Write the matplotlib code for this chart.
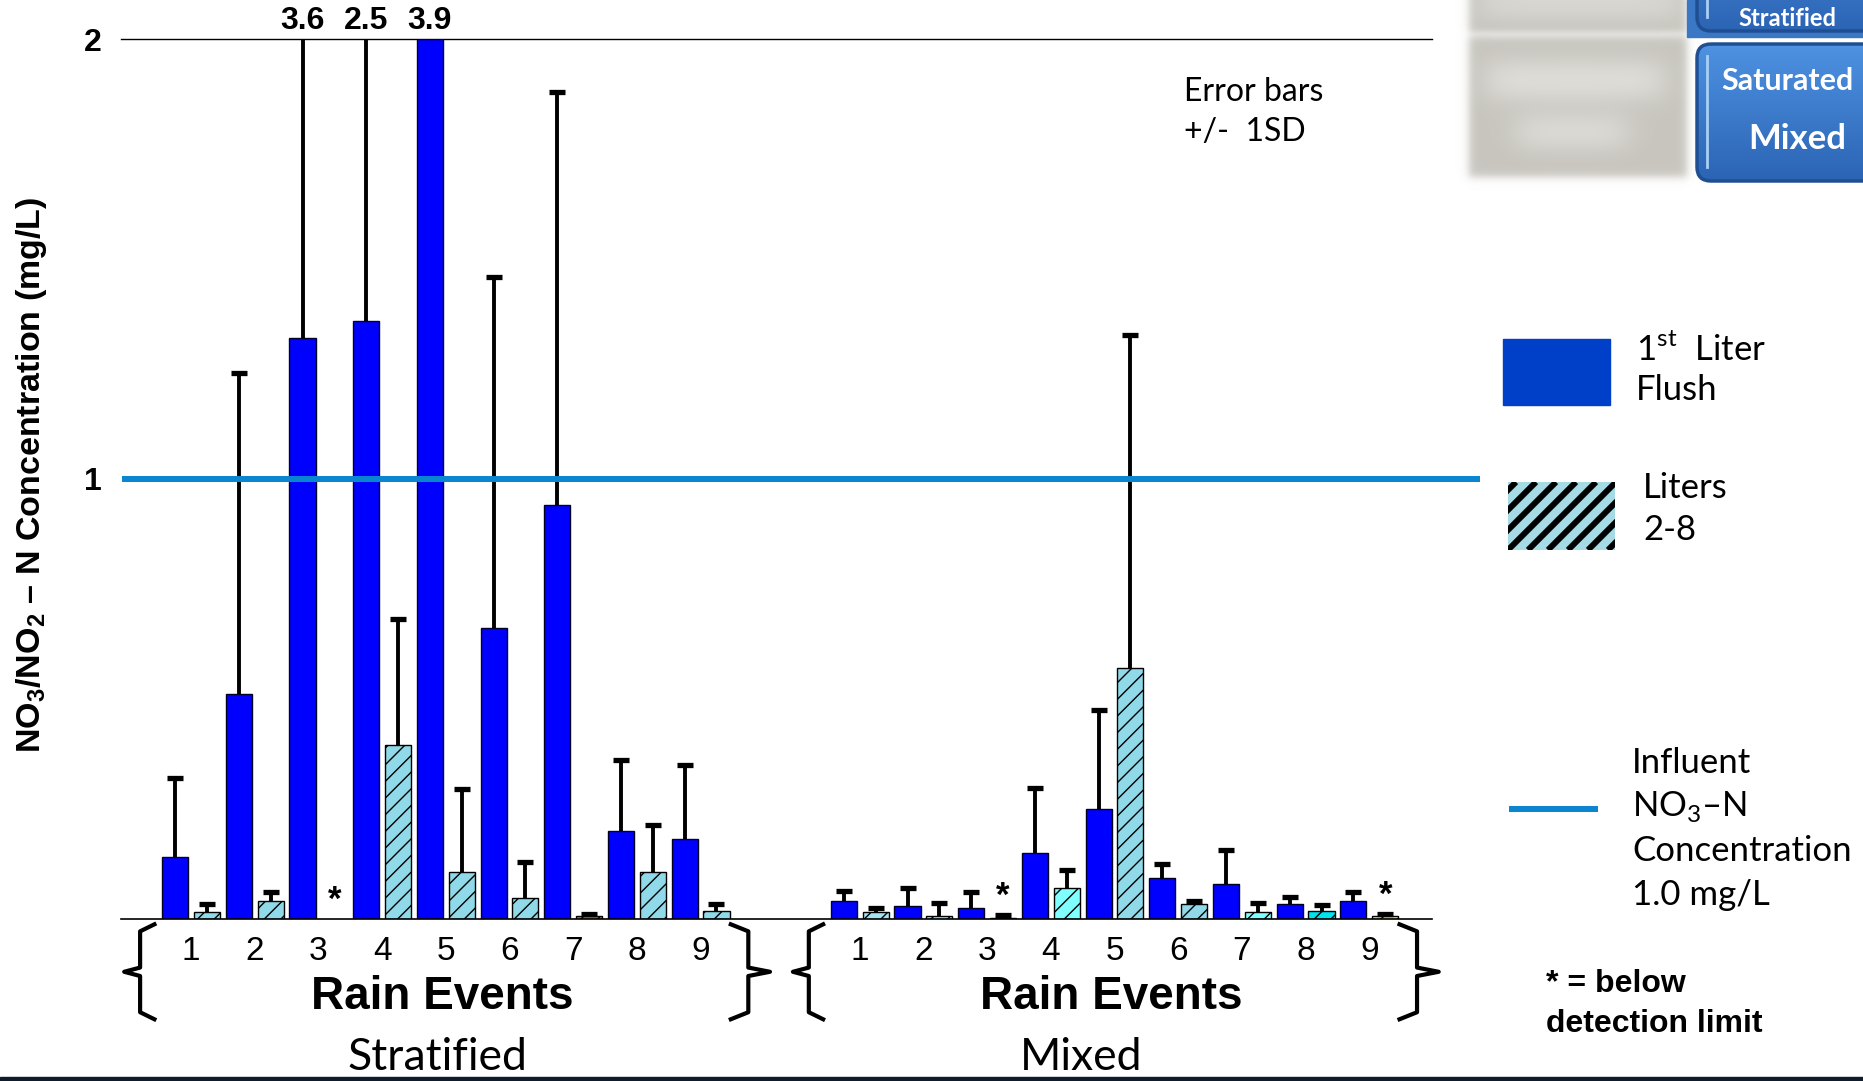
import numpy as np
import matplotlib
matplotlib.use('Agg')
import matplotlib.pyplot as plt
from matplotlib import font_manager
from matplotlib.patches import Rectangle, FancyBboxPatch
from matplotlib.lines import Line2D
from matplotlib.transforms import blended_transform_factory

installed = {f.name for f in font_manager.fontManager.ttflist}
ARIAL = 'Liberation Sans'
NARROW = 'Liberation Sans Narrow' if 'Liberation Sans Narrow' in installed else ARIAL
CALIBRI = 'Lato'

plt.rcParams['font.family'] = [ARIAL, 'DejaVu Sans']
plt.rcParams['mathtext.fontset'] = 'custom'
plt.rcParams['mathtext.rm'] = CALIBRI
plt.rcParams['mathtext.bf'] = ARIAL + ':bold'
plt.rcParams['hatch.linewidth'] = 1.0

# rain events
events = ['1', '2', '3', '4', '5', '6', '7', '8', '9']

# Stratified: 1st liter flush and liters 2-8 (mg/L), upper SD
strat_flush = [0.14, 0.51, 1.32, 1.36, 3.9, 0.66, 0.94, 0.20, 0.18]
strat_flush_sd = [0.18, 0.73, 2.28, 1.14, 0.0, 0.80, 0.94, 0.16, 0.17]
strat_rest = [0.014, 0.039, np.nan, 0.395, 0.106, 0.047, 0.005, 0.105, 0.016]
strat_rest_sd = [0.018, 0.021, np.nan, 0.286, 0.189, 0.081, 0.005, 0.108, 0.017]

# Mixed
mixed_flush = [0.039, 0.029, 0.023, 0.150, 0.249, 0.091, 0.078, 0.033, 0.039]
mixed_flush_sd = [0.024, 0.041, 0.038, 0.147, 0.226, 0.034, 0.078, 0.015, 0.021]
mixed_rest = [0.014, 0.005, 0.002, 0.070, 0.570, 0.033, 0.015, 0.017, 0.006]
mixed_rest_sd = [0.011, 0.031, 0.007, 0.041, 0.757, 0.006, 0.020, 0.013, 0.005]

# off-scale values written above the top line (stratified flush bars)
strat_offscale = ['', '', '3.6', '2.5', '3.9', '', '', '', '']
# events whose liters 2-8 were below detection limit
strat_bdl = ['3']
mixed_bdl = ['3', '9']

influent = 1.0

# colours
BLUE = '#0000ff'
strat_rest_colors = ['#8fd9e8', '#8fd9e8', '#8fd9e8', '#8fd9e8', '#8fd9e8',
                     '#8fd9e8', '#c87a3c', '#8fd9e8', '#8fd9e8']
mixed_rest_colors = ['#a3e3f3', '#80ffff', '#eefcff', '#80ffff', '#8fd9e8',
                     '#8fd9e8', '#80ffff', '#00e3ee', '#ccff66']
INFLUENT_C = '#0a85cf'

W, H = 1863, 1081
fig = plt.figure(figsize=(W / 100, H / 100), dpi=100)


def fx(px):
    return px / W


def fy(py):
    return 1 - py / H


ax = fig.add_axes([fx(121), fy(918.5), (1432 - 121) / W, (918.5 - 39.2) / H])
ax.set_xlim(-1.7, 39.47)
ax.set_ylim(0, 2)
for s in ['left', 'right']:
    ax.spines[s].set_visible(False)
ax.spines['top'].set_linewidth(1.0)
ax.spines['bottom'].set_linewidth(1.2)
ax.set_xticks([])
ax.set_yticks([1, 2])
ax.set_yticklabels(['1', '2'], fontsize=23, fontweight='bold')
ax.tick_params(axis='y', length=0, pad=14)

trans = blended_transform_factory(ax.transData, ax.transAxes)
bw = 0.82


def upper_errorbar(x, y, sd):
    eb = ax.errorbar(x, y, yerr=[np.zeros(len(y)), sd], fmt='none', ecolor='black',
                     elinewidth=2.8, capsize=5.5, capthick=3.8, zorder=3)
    eb[1][0].set_visible(False)  # no cap on the bar top


def draw_group(x0, flush, flush_sd, rest, rest_sd, rest_colors, bdl):
    xf = x0 + 2 * np.arange(len(events))
    xr = xf + 1
    flush = np.array(flush)
    rest = np.array(rest)
    ax.bar(xf, flush, width=bw, color=BLUE, edgecolor='#000022', linewidth=1, zorder=2)
    upper_errorbar(xf, flush, flush_sd)
    ok = ~np.isnan(rest)
    ax.bar(xr[ok], rest[ok], width=bw, color=np.array(rest_colors)[ok],
           edgecolor='black', linewidth=1, hatch='//', zorder=2)
    upper_errorbar(xr[ok], rest[ok], np.array(rest_sd)[ok])
    for i, ev in enumerate(events):
        ax.text(xf[i] + 0.5, -0.037, ev, transform=trans, ha='center', va='center',
                fontsize=24, family=NARROW)
        if ev in bdl:
            top = 0 if np.isnan(rest[i]) else rest[i] + rest_sd[i]
            ax.text(xr[i], top + 0.02, '*', ha='center', va='baseline',
                    fontsize=25, fontweight='bold')
    return xf, xr


def brace(x_vert, x_hook, x_tip):
    top, bot, mid, d = -0.0066, -0.1146, -0.0606, 0.008
    xs = [x_hook, x_vert, x_vert, x_tip, x_vert, x_vert, x_hook]
    ys = [top, top - d, mid + d * 0.6, mid, mid - d * 0.6, bot + d, bot]
    ax.add_line(Line2D(xs, ys, transform=trans, color='black', lw=3,
                       solid_joinstyle='round', clip_on=False))


# group start, name, data..., shift of the group name
groups = [(0, 'Stratified', strat_flush, strat_flush_sd, strat_rest, strat_rest_sd,
           strat_rest_colors, strat_bdl, -0.25),
          (21, 'Mixed', mixed_flush, mixed_flush_sd, mixed_rest, mixed_rest_sd,
           mixed_rest_colors, mixed_bdl, -1.05)]

for x0, name, fl, fls, rs, rss, rc, bdl, name_shift in groups:
    xf, xr = draw_group(x0, fl, fls, rs, rss, rc, bdl)
    first, last = xf[0], xr[-1]
    brace(first - 1.1, first - 0.65, first - 1.6)
    brace(last + 1.0, last + 0.45, last + 1.68)
    mid = (first + last) / 2
    ax.text(mid - 0.1, -0.089, 'Rain Events', transform=trans, ha='center', va='center',
            fontsize=35 if NARROW != ARIAL else 33, fontweight='bold', family=NARROW)
    ax.text(mid + name_shift, -0.158, name, transform=trans, ha='center', va='center',
            fontsize=32, family=CALIBRI)

# values beyond the axis
xf = 2 * np.arange(len(events))
for i, lab in enumerate(strat_offscale):
    if lab:
        ax.annotate(lab, (xf[i], 2), xytext=(0, 2.5), textcoords='offset points',
                    ha='center', va='bottom', fontsize=23, fontweight='bold',
                    annotation_clip=False)

# influent concentration line
ax.axhline(influent, xmin=0.003, xmax=1.034, color=INFLUENT_C, lw=4.3,
           clip_on=False, zorder=4)

ax.text(0.811, 0.957, 'Error bars\n+/-  1SD', transform=ax.transAxes, ha='left',
        va='top', fontsize=23, family=CALIBRI, linespacing=1.4)

# y label
fig.text(fx(32), fy(475), r'NO$_\mathbf{3}$/NO$_\mathbf{2}$ – N Concentration (mg/L)',
         rotation=90, ha='center', va='center', fontsize=24.5, fontweight='bold')

# legend
fig.add_artist(Rectangle((fx(1503), fy(405)), 107 / W, 66 / H,
                         transform=fig.transFigure, color='#003fc8'))
fig.text(fx(1636), fy(350), r'1$^{\rm st}$  Liter', fontsize=25, family=CALIBRI,
         ha='left', va='center')
fig.text(fx(1636), fy(390), 'Flush', fontsize=25, family=CALIBRI, ha='left', va='center')

hax = fig.add_axes([fx(1508), fy(550), 107 / W, 68 / H])
hax.set_xlim(0, 107)
hax.set_ylim(0, 68)
hax.set_facecolor('#a6dbe6')
for c in range(-80, 120, 20):
    hax.plot([c, c + 68], [0, 68], color='black', lw=4.3, solid_capstyle='butt')
hax.set_xticks([])
hax.set_yticks([])
for s in hax.spines.values():
    s.set_visible(False)
fig.text(fx(1643), fy(488), 'Liters', fontsize=25, family=CALIBRI, ha='left', va='center')
fig.text(fx(1643), fy(530), '2-8', fontsize=25, family=CALIBRI, ha='left', va='center')

fig.add_artist(Line2D([fx(1512), fx(1595)], [fy(809), fy(809)], color=INFLUENT_C, lw=4.3))
for txt, py in [('Influent', 763), (r'NO$_3$–N', 807), ('Concentration', 851),
                ('1.0 mg/L', 895)]:
    fig.text(fx(1632), fy(py), txt, fontsize=25, family=CALIBRI, ha='left', va='center')

fig.text(fx(1546), fy(984), '* = below', fontsize=23, fontweight='bold',
         ha='left', va='center')
fig.text(fx(1546), fy(1024), 'detection limit', fontsize=23, fontweight='bold',
         ha='left', va='center')

# slide navigation buttons (top right)
deco = fig.add_axes([fx(1440), fy(200), (W - 1440) / W, 200 / H])
deco.set_xlim(1440, W)
deco.set_ylim(200, 0)
deco.axis('off')

X, Y = np.meshgrid(np.arange(1440, W) + 0.5, np.arange(0, 200) + 0.5)


def soft(v, a, b, s):
    return 1 / (1 + np.exp(-(v - a) / s)) / (1 + np.exp(-(b - v) / s))


alpha = soft(X, 1469, 1687, 2.5) * (soft(Y, -40, 32, 2) + soft(Y, 36, 177, 2.5))
light = (soft(X, 1487, 1663, 9) * soft(Y, 63, 97, 7)
         + soft(X, 1517, 1627, 9) * soft(Y, 117, 147, 7) * 0.9
         + soft(X, 1480, 1680, 9) * soft(Y, -20, 18, 6) * 0.7)
light = np.clip(light, 0, 1)
gray = np.array([199, 197, 190]) / 255
pale = np.array([226, 224, 219]) / 255
img = np.zeros(X.shape + (4,))
img[..., :3] = gray + light[..., None] * (pale - gray)
img[..., 3] = np.clip(alpha, 0, 1)
deco.imshow(img, extent=(1440, W, 200, 0), aspect='auto', interpolation='bilinear')

deco.add_patch(Rectangle((1687, 0), W - 1687, 37, color='#3a78c6'))
grad = np.linspace(0, 1, 100)[:, None]
top_c = np.array([78, 146, 226]) / 255
bot_c = np.array([44, 100, 180]) / 255
grad_img = top_c + grad[..., None] * (bot_c - top_c)
# button rectangles; label, baseline/centre y, font size
buttons = [(-100, 131, [('Stratified', 26, 17)]),
           (44, 137, [('Saturated', 81, 22), ('Mixed', 139, 25)])]
for y0, h, labels in buttons:
    btn = FancyBboxPatch((1697, y0), 220, h, boxstyle='round,pad=0,rounding_size=14',
                         fc='none', ec='#1f4f92', lw=2.5, zorder=3)
    deco.add_patch(btn)
    gi = deco.imshow(grad_img, extent=(1697, 1917, y0 + h, y0), aspect='auto', zorder=2)
    gi.set_clip_path(btn)
    deco.plot([1707, 1707], [max(y0 + 12, 0), y0 + h - 14], color='#a8d0f5', lw=2, zorder=4)
    for txt, py, fs in labels:
        deco.text(1787 if txt != 'Mixed' else 1797, py, txt, color='white', fontsize=fs,
                  fontweight='bold', family=CALIBRI, ha='center',
                  va='baseline' if txt == 'Stratified' else 'center', zorder=5)
deco.set_xlim(1440, W)
deco.set_ylim(200, 0)

# slide bottom border
fig.add_artist(Rectangle((0, 0), 1, 4 / H, transform=fig.transFigure, color='#0d1b2a'))

fig.savefig('out.png', dpi=100)
